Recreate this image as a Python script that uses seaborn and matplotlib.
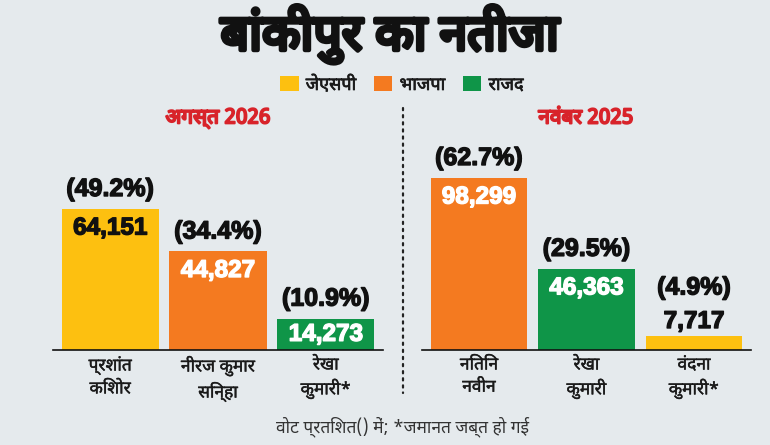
import numpy as np
import pandas as pd
import seaborn as sns
import matplotlib
matplotlib.use("Agg")
import matplotlib.pyplot as plt
import matplotlib.patheffects as pe
from matplotlib import font_manager as fm
from matplotlib.ft2font import FT2Font
from matplotlib.patches import Patch
from matplotlib.lines import Line2D

# ---------------- data ----------------
title = "बांकीपुर का नतीजा"
legend_labels = ["जेएसपी", "भाजपा", "राजद"]
left_title = "अगस्त 2026"
right_title = "नवंबर 2025"
left_names = ["प्रशांत\nकिशोर", "नीरज कुमार\nसिन्हा", "रेखा\nकुमारी*"]
left_votes = [64151, 44827, 14273]
left_pct = [49.2, 34.4, 10.9]
left_party = ["जेएसपी", "भाजपा", "राजद"]
right_names = ["नितिन\nनवीन", "रेखा\nकुमारी", "वंदना\nकुमारी*"]
right_votes = [98299, 46363, 7717]
right_pct = [62.7, 29.5, 4.9]
right_party = ["भाजपा", "राजद", "जेएसपी"]
footnote = "वोट प्रतिशत() में; *जमानत जब्त हो गई"

party_colors = {"जेएसपी": "#FDC010", "भाजपा": "#F47A20", "राजद": "#0F9548"}
value_text_colors = {"जेएसपी": "#111111", "भाजपा": "white", "राजद": "white"}

# ---------------- fonts ----------------
def families_with(ch):
    names = []
    for f in fm.fontManager.ttflist:
        try:
            if ord(ch) in FT2Font(f.fname).get_charmap():
                if f.name not in names:
                    names.append(f.name)
        except Exception:
            pass
    return names

deva_avail = families_with("क")
pref = ["Noto Sans Devanagari", "Noto Sans Devanagari UI", "Mukta", "Hind",
        "Lohit Devanagari", "Noto Serif Devanagari", "FreeSans", "Gargi"]
deva = None
for p in pref:
    if p in deva_avail:
        deva = p
        break
if deva is None and deva_avail:
    deva = deva_avail[0]
DEVA = [deva, "DejaVu Sans"] if deva else ["DejaVu Sans"]

installed = {f.name for f in fm.fontManager.ttflist}
NUM = ["Liberation Sans"] if "Liberation Sans" in installed else ["DejaVu Sans"]

def heavy(color, lw):
    return [pe.withStroke(linewidth=lw, foreground=color)]

BG = "#E5EAED"
plt.rcParams["font.family"] = DEVA

fig = plt.figure(figsize=(7.7, 4.45), dpi=100, facecolor=BG)
W, H = 770.0, 445.0
PX = 0.72  # points per pixel at dpi 100

def draw_panel(rect, names, votes, pct, party, ylim_top):
    ax = fig.add_axes(rect)
    ax.set_facecolor("none")
    df = pd.DataFrame({"name": names, "votes": votes, "party": party})
    sns.barplot(data=df, x="name", y="votes", hue="party", order=names,
                palette=party_colors, dodge=False, width=0.9, saturation=1,
                legend=False, ax=ax)
    ax.set_xlim(-0.53, 2.53)
    ax.set_ylim(0, ylim_top)
    for s in ["top", "right", "left"]:
        ax.spines[s].set_visible(False)
    ax.spines["bottom"].set_color("#111111")
    ax.spines["bottom"].set_linewidth(1.2)
    ax.set_yticks([])
    ax.set_xlabel("")
    ax.set_ylabel("")
    ax.tick_params(axis="x", length=0, pad=4)
    ax.set_xticks(range(len(names)))
    ax.set_xticklabels(names, fontsize=12.5, color="#1a1a1a",
                       family=DEVA, linespacing=1.3)
    for t in ax.get_xticklabels():
        t.set_path_effects(heavy("#1a1a1a", 0.3))
    axh_px = rect[3] * H
    for i, (v, p, pt) in enumerate(zip(votes, pct, party)):
        hpx = v / ylim_top * axh_px
        if hpx >= 28:
            voff = -min(19, hpx / 2)
            poff = 20
            vcol = value_text_colors[pt]
        else:
            voff = 15
            poff = 49
            vcol = "#111111"
        ax.annotate(f"{v:,}", xy=(i, v), xytext=(0, voff * PX),
                    textcoords="offset points", ha="center", va="center",
                    fontsize=17.5, fontweight="bold", color=vcol, family=NUM,
                    path_effects=heavy(vcol, 1.0))
        ax.annotate(f"({p}%)", xy=(i, v), xytext=(0, poff * PX),
                    textcoords="offset points", ha="center", va="center",
                    fontsize=18, fontweight="bold", color="#111111", family=NUM,
                    path_effects=heavy("#111111", 1.0))
    return ax

base_y = 350.0
top_y = 150.0
ax_h = (base_y - top_y) / H
ax_b = 1 - base_y / H

draw_panel([53 / W, ax_b, 330 / W, ax_h], left_names, left_votes, left_pct,
           left_party, 91000)
draw_panel([422 / W, ax_b, 329 / W, ax_h], right_names, right_votes, right_pct,
           right_party, 114300)

# divider
fig.add_artist(Line2D([403 / W, 403 / W], [1 - 108 / H, 1 - 393 / H],
                      transform=fig.transFigure, color="#222222", lw=1.6,
                      linestyle=(0, (1, 2.2)), dash_capstyle="round"))

# titles
fig.text(390 / W, 1 - 34 / H, title, ha="center", va="center", fontsize=36,
         fontweight="bold", color="#111111", family=DEVA,
         path_effects=heavy("#111111", 3.2))
fig.text(218 / W, 1 - 118 / H, left_title, ha="center", va="center",
         fontsize=15, fontweight="bold", color="#D8232A", family=DEVA,
         path_effects=heavy("#D8232A", 1.4))
fig.text(586 / W, 1 - 118 / H, right_title, ha="center", va="center",
         fontsize=15, fontweight="bold", color="#D8232A", family=DEVA,
         path_effects=heavy("#D8232A", 1.4))

# legend
handles = [Patch(facecolor=party_colors[k], edgecolor="none") for k in legend_labels]
leg = fig.legend(handles, legend_labels, loc="center", bbox_to_anchor=(402 / W, 1 - 85 / H),
                 ncol=3, frameon=False, handlelength=1.0, handleheight=0.9,
                 handletextpad=0.4, columnspacing=1.0, prop={"family": DEVA, "size": 13})
for t in leg.get_texts():
    t.set_color("#1a1a1a")
    t.set_path_effects(heavy("#1a1a1a", 0.5))

# footnote
fig.text(403 / W, 1 - 427 / H, footnote, ha="center", va="center", fontsize=12.5,
         style="italic", color="#333333", family=DEVA)

fig.savefig("out.png", dpi=100, facecolor=BG)
